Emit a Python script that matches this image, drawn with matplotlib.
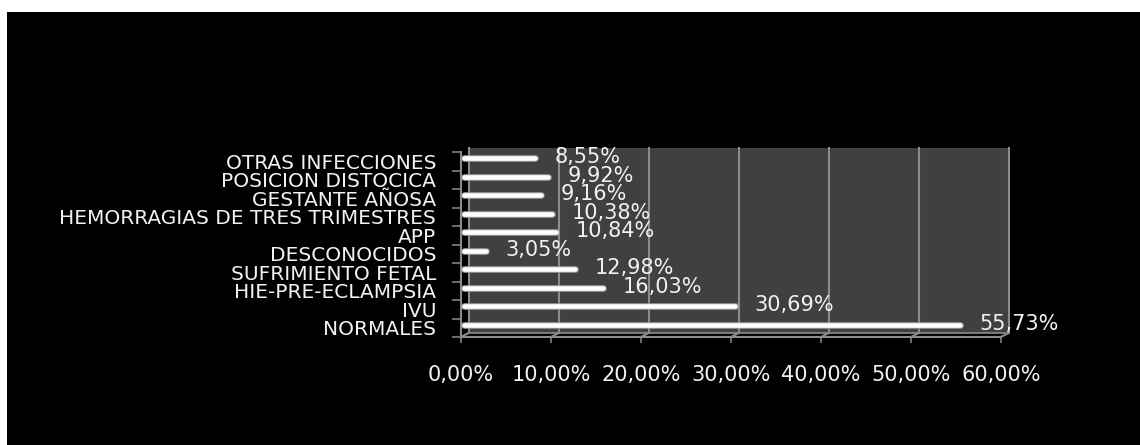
import matplotlib.pyplot as plt
import matplotlib.transforms as mtransforms
from matplotlib.patches import Rectangle

# data, bottom to top as drawn
categories = ["NORMALES", "IVU", "HIE-PRE-ECLAMPSIA", "SUFRIMIENTO FETAL",
              "DESCONOCIDOS", "APP", "HEMORRAGIAS DE TRES TRIMESTRES",
              "GESTANTE AÑOSA", "POSICION DISTOCICA", "OTRAS INFECCIONES"]
values = [55.73, 30.69, 16.03, 12.98, 3.05, 10.84, 10.38, 9.16, 9.92, 8.55]
x_ticks = [0, 10, 20, 30, 40, 50, 60]

W, H = 1140, 445
fig = plt.figure(figsize=(W / 100, H / 100), dpi=100, facecolor="white")
# black slide background (white margin on top/left)
fig.patches.append(Rectangle((7 / W, 0), 1, (H - 12) / H, transform=fig.transFigure,
                             facecolor="black", edgecolor="none", zorder=-5))

ax = fig.add_axes([461 / W, (H - 337) / H, 540 / W, 185 / H])
ax.set_facecolor("none")
ax.set_xlim(0, 60)
ax.set_ylim(-0.5, len(categories) - 0.5)

grid_c = "#8c8c8c"
txt_c = "#f2f2f2"
n = len(categories)

# pseudo-3D back wall, shifted up/right
back = mtransforms.offset_copy(ax.transData, fig=fig, x=7.5, y=4, units="dots")
ax.add_patch(Rectangle((0, -0.5), 60, n, transform=back, clip_on=False,
                       facecolor="#404040", edgecolor="none", zorder=0.5))
for x in x_ticks:
    ax.plot([x, x], [-0.5, n - 0.5], transform=back,
            color=grid_c, lw=1.5, zorder=0.8, clip_on=False)
# floor line at the back and connectors from front ticks
ax.plot([0, 60], [-0.5, -0.5], transform=back, color=grid_c, lw=1.2,
        zorder=0.8, clip_on=False)
inv = fig.transFigure.inverted()
for x in x_ticks:
    p0 = ax.transData.transform((x, -0.5))
    a = inv.transform(p0)
    b = inv.transform((p0[0] + 7.5, p0[1] + 4))
    fig.add_artist(plt.Line2D([a[0], b[0]], [a[1], b[1]], color=grid_c, lw=1.5))

# bars drawn as rounded cylinders, a bit towards the back
mid = mtransforms.offset_copy(ax.transData, fig=fig, x=0, y=3, units="dots")
ypos = list(range(n))
ends = [v - 0.3 for v in values]
ax.hlines(ypos, 0.3, ends, transform=mid, color="#9a9a9a",
          lw=4.8, capstyle="round", zorder=3)
ax.hlines(ypos, 0.3, ends, transform=mid, color="white",
          lw=3.3, capstyle="round", zorder=4)

# value labels
lab = mtransforms.offset_copy(ax.transData, fig=fig, x=17, y=4, units="dots")
for y, v in zip(ypos, values):
    ax.text(v, y, f"{v:.2f}%".replace(".", ","), transform=lab, color=txt_c,
            fontsize=15, ha="left", va="center", zorder=5)

ax.set_yticks(ypos)
ax.set_yticklabels(categories)
ax.set_yticks([i - 0.5 for i in range(n + 1)], minor=True)
ax.tick_params(axis="y", which="major", length=0, pad=18, labelsize=14.5,
               labelcolor=txt_c)
ax.tick_params(axis="y", which="minor", length=6.5, width=1.1, color=grid_c)

ax.set_xticks(x_ticks)
ax.set_xticklabels([f"{t:.2f}%".replace(".", ",") for t in x_ticks])
ax.tick_params(axis="x", length=4, width=1.1, color=grid_c, pad=16,
               labelsize=15, labelcolor=txt_c)

for s in ["top", "right"]:
    ax.spines[s].set_visible(False)
for s in ["left", "bottom"]:
    ax.spines[s].set_color(grid_c)
    ax.spines[s].set_linewidth(1.5)

fig.savefig("out.png", dpi=100, facecolor="white")
